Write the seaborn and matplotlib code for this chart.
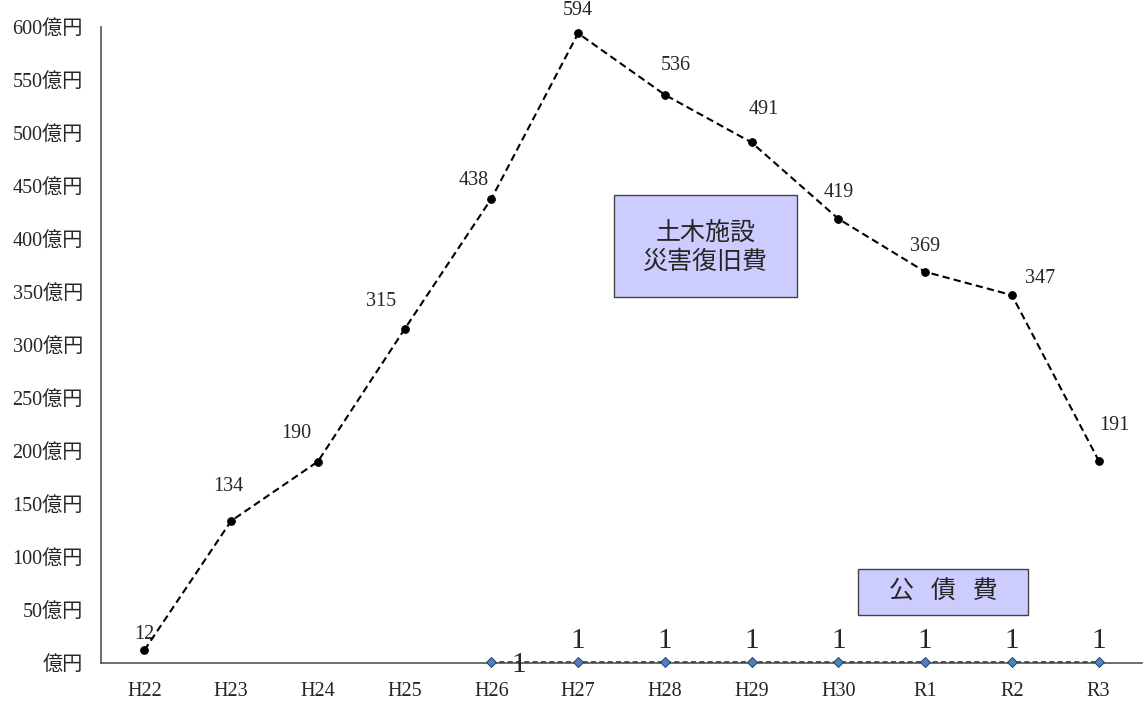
import matplotlib
matplotlib.use("Agg")
import matplotlib.pyplot as plt
import numpy as np
import pandas as pd
import seaborn as sns
from matplotlib.patches import Rectangle

# data
years = ["H22", "H23", "H24", "H25", "H26", "H27", "H28", "H29", "H30", "R1", "R2", "R3"]
disaster_cost = [12, 134, 190, 315, 438, 594, 536, 491, 419, 369, 347, 191]
bond_years = ["H26", "H27", "H28", "H29", "H30", "R1", "R2", "R3"]
bond_cost = [1, 1, 1, 1, 1, 1, 1, 1]
y_ticks = [0, 50, 100, 150, 200, 250, 300, 350, 400, 450, 500, 550, 600]

# label offsets in pixels (dx, dy) from the point to the label centre
main_offsets = [(0, 16), (-3, 34), (-22, 28), (-24, 28), (-18, 18), (0, 23),
                (11, 29), (12, 33), (0, 26), (0, 25), (28, 17), (16, 35)]
bond_offsets = [(27, -3)] + [(0, 21)] * 7

sns.set_theme(style="white")
plt.rcParams['font.family'] = ['Liberation Serif', 'Noto Sans CJK JP']

df_main = pd.DataFrame({"x": np.arange(len(years)), "value": disaster_cost})
df_bond = pd.DataFrame({"x": [years.index(y) for y in bond_years], "value": bond_cost})

fig = plt.figure(figsize=(11.45, 7.02), dpi=100)
ax = fig.add_axes([0.0882, 0.0556, 0.9092, 0.906])

sns.lineplot(data=df_main, x="x", y="value", ax=ax, color="black", linestyle=(0, (3.5, 2)),
             linewidth=1.5, marker="o", markersize=5.5, markeredgecolor="black", sort=False)
sns.lineplot(data=df_bond, x="x", y="value", ax=ax, color="#3a3a3a", linestyle=(0, (3, 2)),
             linewidth=1.2, marker="D", markersize=5.5, markerfacecolor="#4f81bd",
             markeredgecolor="#1f3f66", markeredgewidth=0.7, sort=False)
for line in ax.lines:
    line.set_clip_on(False)
    line.set_zorder(5)

for (x, v), off in zip(df_main.itertuples(index=False), main_offsets):
    ax.annotate(str(v), (x, v), xytext=off, textcoords="offset pixels",
                ha="center", va="center", fontsize=14.5)
for (x, v), off in zip(df_bond.itertuples(index=False), bond_offsets):
    ax.annotate(str(v), (x, v), xytext=off, textcoords="offset pixels",
                ha="center", va="center", fontsize=21, annotation_clip=False, zorder=6)

ax.set_xlim(-0.5, len(years) - 0.5)
ax.set_ylim(0, 600)
ax.set_yticks(y_ticks)
ax.set_yticklabels([f"{v}億円" if v else "億円" for v in y_ticks], fontsize=14.5)
ax.set_xticks(np.arange(len(years)))
ax.set_xticklabels(years, fontsize=14.5)
ax.set_xticks(np.arange(len(years) + 1) - 0.5, minor=True)
ax.tick_params(axis="x", which="major", length=0, pad=14)
ax.tick_params(axis="x", which="minor", direction="in", length=6, color="#555555")
ax.tick_params(axis="y", direction="in", length=6, color="#555555", pad=13)
ax.set_xlabel("")
ax.set_ylabel("")
for s in ["top", "right"]:
    ax.spines[s].set_visible(False)
for s in ["left", "bottom"]:
    ax.spines[s].set_color("#555555")
    ax.spines[s].set_linewidth(1.2)

# caption boxes (axes coordinates)
ax.add_patch(Rectangle((0.493, 0.575), 0.176, 0.161, transform=ax.transAxes,
                       facecolor="#ccccff", edgecolor="#444444", linewidth=1, zorder=3))
ax.text(0.581, 0.6535, "土木施設\n災害復旧費", transform=ax.transAxes, ha="center", va="center",
        fontsize=18, family=["Noto Sans CJK JP"], linespacing=1.2, zorder=4)
ax.add_patch(Rectangle((0.727, 0.0755), 0.1635, 0.0725, transform=ax.transAxes,
                       facecolor="#ccccff", edgecolor="#444444", linewidth=1, zorder=3))
ax.text(0.8088, 0.112, "公   債   費", transform=ax.transAxes, ha="center", va="center",
        fontsize=18, family=["Noto Sans CJK JP"], zorder=4)

fig.savefig("out.png", dpi=100)
